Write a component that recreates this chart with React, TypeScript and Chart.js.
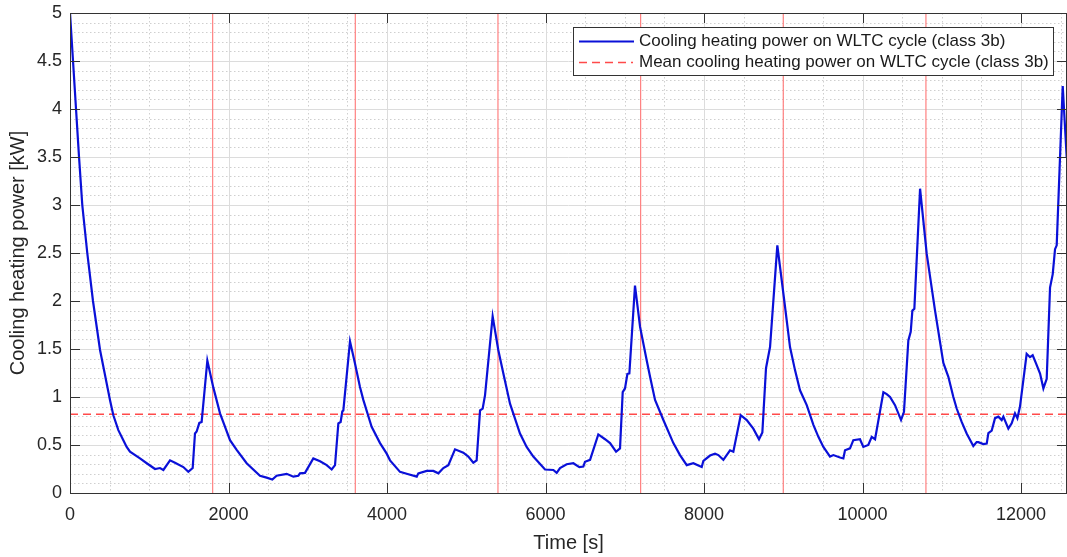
import { useEffect, useRef } from "react";
import { Chart, registerables } from "chart.js";

Chart.register(...registerables);

// ---- data ----
const timeS = [
  0, 76, 114, 155, 218, 290, 379, 421, 463, 505, 547, 610, 673, 715, 757, 883, 968, 1073, 1136, 1178, 1262, 1325, 1430,
  1493, 1548, 1577, 1598, 1632, 1661, 1733, 1808, 1893, 2019, 2103, 2229, 2397, 2481, 2553, 2607, 2734,
  2818, 2881, 2902, 2965, 3070, 3155, 3239, 3302, 3344, 3386, 3415, 3436, 3449, 3533, 3596, 3659, 3701, 3806,
  3912, 3996, 4038, 4164, 4248, 4375, 4395, 4501, 4585, 4648, 4711, 4774, 4858, 4963, 5026, 5089, 5131, 5174,
  5207, 5237, 5333, 5404, 5468, 5552, 5678, 5762, 5846, 5994, 6099, 6141, 6183, 6267, 6351, 6427, 6477, 6498, 6562,
  6666, 6751, 6814, 6890, 6940, 6974, 7003, 7033, 7058, 7129, 7193, 7277, 7319, 7382, 7487, 7613, 7697, 7782, 7865,
  7971, 7992, 8076, 8139, 8181, 8244, 8328, 8370, 8463, 8539, 8622, 8694, 8736, 8782, 8833, 8925, 9022,
  9085, 9148, 9211, 9296, 9380, 9443, 9506, 9590, 9632, 9716, 9758, 9779, 9842, 9884, 9968, 10010, 10073, 10116,
  10158, 10263, 10305, 10347, 10410, 10486, 10523, 10578, 10608, 10629, 10654, 10726, 10810, 10915,
  11020, 11083, 11146, 11188, 11251, 11314, 11398, 11440, 11461, 11524, 11567, 11588, 11630, 11672, 11714, 11756,
  11777, 11840, 11882, 11924, 11954, 11987, 12071, 12113, 12147, 12189, 12240, 12282, 12324, 12366,
  12400, 12429, 12450, 12526, 12576,
];
const powerKW = [
  5.0, 4.0, 3.5, 3.0, 2.5, 2.0, 1.49, 1.316, 1.14, 0.967, 0.81, 0.655, 0.55, 0.48, 0.43, 0.36, 0.31, 0.25, 0.26, 0.24, 0.34, 0.315, 0.27,
  0.22, 0.26, 0.62, 0.64, 0.73, 0.74, 1.38, 1.1, 0.83, 0.55, 0.45, 0.31, 0.18, 0.16, 0.14, 0.18, 0.2,
  0.17, 0.18, 0.205, 0.21, 0.36, 0.33, 0.29, 0.245, 0.29, 0.725, 0.74, 0.85, 0.86, 1.58, 1.35, 1.105, 0.97, 0.69,
  0.52, 0.41, 0.34, 0.22, 0.2, 0.17, 0.205, 0.23, 0.23, 0.205, 0.26, 0.29, 0.455, 0.42, 0.38, 0.315, 0.34, 0.86,
  0.88, 1.02, 1.84, 1.49, 1.245, 0.93, 0.62, 0.48, 0.38, 0.245, 0.24, 0.21, 0.26, 0.3, 0.31, 0.27, 0.275, 0.325, 0.345,
  0.61, 0.56, 0.52, 0.43, 0.465, 1.05, 1.09, 1.24, 1.245, 2.16, 1.73, 1.38, 1.21, 0.97, 0.76, 0.52, 0.395, 0.29, 0.31,
  0.27, 0.335, 0.39, 0.41, 0.395, 0.345, 0.445, 0.43, 0.81, 0.76, 0.67, 0.56, 0.63, 1.3, 1.52, 2.58, 1.94,
  1.52, 1.28, 1.07, 0.915, 0.71, 0.585, 0.48, 0.38, 0.395, 0.37, 0.36, 0.445, 0.465, 0.55, 0.56, 0.48, 0.5, 0.585,
  0.56, 1.05, 1.03, 1.0, 0.915, 0.76, 0.845, 1.59, 1.68, 1.9, 1.92, 3.17, 2.49, 1.9,
  1.355, 1.21, 1.0, 0.88, 0.74, 0.62, 0.49, 0.53, 0.53, 0.51, 0.515, 0.625, 0.65, 0.78, 0.795, 0.76,
  0.795, 0.67, 0.725, 0.83, 0.78, 0.9, 1.45, 1.415, 1.435, 1.35, 1.245, 1.09, 1.19, 2.14,
  2.28, 2.54, 2.58, 4.24, 3.5,
];
const meanPowerKW = 0.82;
const cycleBoundariesS = [1800, 3600, 5400, 7200, 9000, 10800];
const xTickValues = [0, 2000, 4000, 6000, 8000, 10000, 12000];
const yTickValues = [0, 0.5, 1, 1.5, 2, 2.5, 3, 3.5, 4, 4.5, 5];
const xLimits = [0, 12580];
const yLimits = [0, 5];
const seriesLabel = "Cooling heating power on WLTC cycle (class 3b)";
const meanLabel = "Mean cooling heating power on WLTC cycle (class 3b)";
const xTitle = "Time [s]";
const yTitle = "Cooling heating power [kW]";

const FONT = "'Liberation Sans', Arial, Helvetica, sans-serif";
const BLUE = "#0a10d8";
const MEAN_RED = "#ff4a4a";
const VLINE_RED = "#ff8080";
const AXIS = "#333333";

const matlabAxes = {
  id: "matlabAxes",
  beforeDatasetsDraw(chart: any) {
    const { ctx, chartArea } = chart;
    const { left, right, top, bottom } = chartArea;
    const xs = chart.scales.x;
    const ys = chart.scales.y;
    ctx.save();
    // minor grid (dotted)
    ctx.lineWidth = 1;
    ctx.strokeStyle = "#cfcfcf";
    ctx.setLineDash([1.5, 2.5]);
    for (let v = 500; v < xLimits[1]; v += 500) {
      if (v % 2000 === 0) continue;
      const px = Math.round(xs.getPixelForValue(v)) + 0.5;
      ctx.beginPath();
      ctx.moveTo(px, top);
      ctx.lineTo(px, bottom);
      ctx.stroke();
    }
    for (let k = 1; k < 50; k++) {
      if (k % 5 === 0) continue;
      const py = Math.round(ys.getPixelForValue(k / 10)) + 0.5;
      ctx.beginPath();
      ctx.moveTo(left, py);
      ctx.lineTo(right, py);
      ctx.stroke();
    }
    // major grid
    ctx.setLineDash([]);
    ctx.strokeStyle = "#dcdcdc";
    xTickValues.forEach((v) => {
      const px = Math.round(xs.getPixelForValue(v)) + 0.5;
      ctx.beginPath();
      ctx.moveTo(px, top);
      ctx.lineTo(px, bottom);
      ctx.stroke();
    });
    yTickValues.forEach((v) => {
      const py = Math.round(ys.getPixelForValue(v)) + 0.5;
      ctx.beginPath();
      ctx.moveTo(left, py);
      ctx.lineTo(right, py);
      ctx.stroke();
    });
    ctx.restore();
  },
  afterDatasetsDraw(chart: any) {
    const { ctx, chartArea } = chart;
    const { left, right, top, bottom } = chartArea;
    const xs = chart.scales.x;
    const ys = chart.scales.y;
    ctx.save();
    ctx.strokeStyle = AXIS;
    ctx.lineWidth = 1;
    ctx.setLineDash([]);
    ctx.strokeRect(Math.round(left) + 0.5, Math.round(top) + 0.5, Math.round(right - left) - 1, Math.round(bottom - top));
    const tl = 10;
    xTickValues.forEach((v) => {
      const px = Math.round(xs.getPixelForValue(v)) + 0.5;
      ctx.beginPath();
      ctx.moveTo(px, bottom);
      ctx.lineTo(px, bottom - tl);
      ctx.moveTo(px, top);
      ctx.lineTo(px, top + tl);
      ctx.stroke();
    });
    yTickValues.forEach((v) => {
      const py = Math.round(ys.getPixelForValue(v)) + 0.5;
      ctx.beginPath();
      ctx.moveTo(left, py);
      ctx.lineTo(left + tl, py);
      ctx.moveTo(right, py);
      ctx.lineTo(right - tl, py);
      ctx.stroke();
    });

    // legend box (inside axes, top-right)
    const bx = 573.5, by = 27.5, bw = 480, bh = 48;
    ctx.fillStyle = "#ffffff";
    ctx.fillRect(bx, by, bw, bh);
    ctx.strokeStyle = AXIS;
    ctx.strokeRect(bx, by, bw, bh);
    const row1 = 41.5, row2 = 62.5;
    ctx.strokeStyle = BLUE;
    ctx.lineWidth = 2;
    ctx.beginPath();
    ctx.moveTo(579, row1);
    ctx.lineTo(634, row1);
    ctx.stroke();
    ctx.strokeStyle = MEAN_RED;
    ctx.lineWidth = 1.5;
    ctx.setLineDash([8, 5]);
    ctx.beginPath();
    ctx.moveTo(579, row2);
    ctx.lineTo(633, row2);
    ctx.stroke();
    ctx.setLineDash([]);
    ctx.fillStyle = "#1a1a1a";
    ctx.font = `17px ${FONT}`;
    ctx.textBaseline = "middle";
    ctx.textAlign = "left";
    ctx.fillText(seriesLabel, 639, row1);
    ctx.fillText(meanLabel, 639, row2);
    ctx.restore();
  },
};

export default function App() {
  const canvasRef = useRef<HTMLCanvasElement | null>(null);

  useEffect(() => {
    const canvas = canvasRef.current;
    if (!canvas) return;
    const seriesData = timeS.map((t, i) => ({ x: t, y: powerKW[i] }));
    const meanData = xLimits.map((x) => ({ x, y: meanPowerKW }));
    const vlineSets = cycleBoundariesS.map((b) => ({
      label: "",
      data: yLimits.map((y) => ({ x: b, y })),
      borderColor: VLINE_RED,
      borderWidth: 1.2,
      pointRadius: 0,
      fill: false,
    }));

    const chart = new Chart(canvas, {
      type: "line",
      data: {
        datasets: [
          {
            label: seriesLabel,
            data: seriesData,
            borderColor: BLUE,
            borderWidth: 2.2,
            pointRadius: 0,
            tension: 0,
            fill: false,
          },
          {
            label: meanLabel,
            data: meanData,
            borderColor: MEAN_RED,
            borderWidth: 1.5,
            borderDash: [8, 5],
            pointRadius: 0,
            fill: false,
          },
          ...vlineSets,
        ],
      },
      options: {
        animation: false,
        responsive: false,
        maintainAspectRatio: false,
        layout: { padding: { top: 13, right: 0, bottom: 0, left: 0 } },
        plugins: {
          legend: { display: false },
          tooltip: { enabled: false },
        },
        scales: {
          x: {
            type: "linear",
            min: xLimits[0],
            max: xLimits[1],
            grid: { display: false, drawTicks: false },
            border: { display: false },
            afterBuildTicks: (scale: any) => {
              scale.ticks = xTickValues.map((v) => ({ value: v }));
            },
            afterFit: (scale: any) => {
              scale.height = 64;
              scale.paddingLeft = 0;
              scale.paddingRight = 0;
            },
            ticks: {
              padding: 11,
              color: "#262626",
              font: { family: FONT, size: 18 },
              maxRotation: 0,
              autoSkip: false,
              callback: (v: any) => String(v),
            },
            title: {
              display: true,
              text: xTitle,
              color: "#262626",
              font: { family: FONT, size: 20 },
              padding: { top: 0, bottom: 2 },
            },
          },
          y: {
            type: "linear",
            min: yLimits[0],
            max: yLimits[1],
            grid: { display: false, drawTicks: false },
            border: { display: false },
            afterBuildTicks: (scale: any) => {
              scale.ticks = yTickValues.map((v) => ({ value: v }));
            },
            afterFit: (scale: any) => {
              scale.width = 70;
              scale.paddingTop = 0;
              scale.paddingBottom = 0;
            },
            ticks: {
              padding: 8,
              color: "#262626",
              font: { family: FONT, size: 18 },
              autoSkip: false,
              callback: (v: any) => String(v),
            },
            title: {
              display: true,
              text: yTitle,
              color: "#262626",
              font: { family: FONT, size: 20 },
              padding: { top: 6, bottom: 0 },
            },
          },
        },
      },
      plugins: [matlabAxes],
    } as any);

    return () => chart.destroy();
  }, []);

  return (
    <div style={{ position: "absolute", left: 0, top: 0, width: 1067, height: 557, background: "#fff" }}>
      <canvas ref={canvasRef} width={1067} height={557} />
    </div>
  );
}
